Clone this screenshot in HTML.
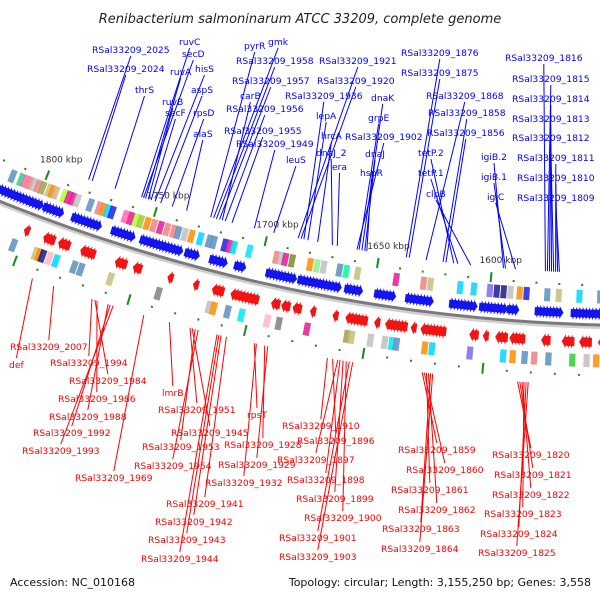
<!DOCTYPE html>
<html><head><meta charset="utf-8"><style>
html,body{margin:0;padding:0;background:#fff}
svg{display:block}
text{font-family:"DejaVu Sans","Liberation Sans",sans-serif}
</style></head><body>
<svg id="map" width="600" height="600" viewBox="0 0 600 600" xmlns="http://www.w3.org/2000/svg">
<text x="300" y="23" text-anchor="middle" font-size="13" font-style="italic" fill="#222">Renibacterium salmoninarum ATCC 33209, complete genome</text>
<text x="10" y="586" font-size="11" fill="#111">Accession: NC_010168</text>
<text x="591" y="586" text-anchor="end" font-size="11" fill="#111">Topology: circular; Length: 3,155,250 bp; Genes: 3,558</text>
<g id="rings"></g>
<g id="labels"></g>
</svg>
<script>
// ---- data (kbp) ----
const fwdClusters=[[1797,1826],[1787,1797],[1770,1784],[1755,1766],[1733,1753],[1726,1733],[1714,1722],[1705.5,1711],[1683.5,1697],[1663.5,1683],[1654,1662.5],[1640,1649.5],[1624,1636],[1605,1617],[1592,1604],[1586,1592],[1567.5,1580],[1540,1564.5]];
const revClusters=[[1813,1816],[1798.5,1801.6],[1787,1793],[1780.3,1785.3],[1769,1775.8],[1755,1760.5],[1748.4,1753.3],[1734.6,1737.2],[1723.4,1726.1],[1712.3,1717.6],[1697.2,1709.3],[1688,1691.5],[1683.6,1687.1],[1678.7,1682.3],[1672.6,1675.2],[1662.9,1665.1],[1650.3,1660.3],[1645,1647.6],[1633.3,1642.8],[1629.4,1632],[1616.8,1628.5],[1603,1606.9],[1598.7,1601.3],[1590.6,1596.1],[1583.2,1589.7],[1572.5,1577.3],[1562.4,1568.1],[1555,1560.7],[1540,1552.6]];
const boxUpKbp=[1814,1810,1808,1806,1804,1802,1800,1797,1795.5,1794,1790,1788,1786,1784,1778,1774,1772,1770,1768,1762,1759.5,1757,1755,1752,1749,1746,1743,1740,1738,1735,1732,1728,1724,1722,1717,1715,1713,1706,1694,1692,1690,1687,1679,1676,1673,1666,1663,1658,1641,1629,1626,1613,1607,1600,1597,1594,1591,1587,1584,1575,1570,1561,1552];
const boxUpColor=["#5b8fc0","#3cc87a","#ff69b4","#f08080","#c0c0c0","#f08080","#a0a050","#c8bd78","#ff8c00","#d2b48c","#adff2f","#e6198f","#e6198f","#c0c0c0","#5b8fc0","#f08080","#ff8c00","#00d5ff","#1e1ee6","#ff69b4","#e6198f","#adff2f","#9acd32","#ff8c00","#f08080","#e6198f","#f08080","#f08080","#5b8fc0","#c0c0c0","#ff8c00","#00d5ff","#5b8fc0","#5b8fc0","#1e1ee6","#e6198f","#00d5ff","#00e5ff","#f08080","#c0c0c0","#e6198f","#7b8b2a","#ff8c00","#90ee90","#c0c0c0","#5b8fc0","#00fa9a","#c8bd78","#e6198f","#f08080","#c8bd78","#00d5ff","#00d5ff","#7b68ee","#1a1a8a","#1a1a8a","#c0c0c0","#ff8c00","#1e1ee6","#5b8fc0","#c8bd78","#00d5ff","#5b8fc0"];
const boxDownKbp=[1803,1793,1791.5,1790,1787,1784,1776,1773,1760,1739,1717,1715,1709,1703,1692,1687,1675,1658,1656,1648,1642,1639,1637,1625,1622,1606,1592,1588,1583,1579,1573,1563,1557,1553];
const boxDownColor=["#5b8fc0","#c8bd78","#ff8c00","#1a1a8a","#ffb6c1","#00d5ff","#5b8fc0","#5b8fc0","#c8bd78","#808080","#c0c0c0","#ff8c00","#5b8fc0","#00e5ff","#ffb6c1","#808080","#e6198f","#a0a050","#c8bd78","#c0c0c0","#c0c0c0","#00e5ff","#5b8fc0","#ff8c00","#00d5ff","#7b68ee","#00d5ff","#ff8c00","#5b8fc0","#f08080","#5b8fc0","#32cd32","#c0c0c0","#ff8c00"];
const tickKbp=[1800,1750,1700,1650,1600];
const tickLabels=["1800 kbp","1750 kbp","1700 kbp","1650 kbp","1600 kbp"];
const topNames=["RSal33209_2025","RSal33209_2024","thrS","ruvC","secD","ruvA","ruvB","secF","hisS","aspS","rpsD","alaS","pyrR","gmk","RSal33209_1958","RSal33209_1957","carB","RSal33209_1956","RSal33209_1955","RSal33209_1949","leuS","RSal33209_1921","RSal33209_1920","RSal33209_1936","lepA","hrcA","dnaJ_2","era","RSal33209_1902","dnaK","grpE","dnaJ","hspR","RSal33209_1876","RSal33209_1875","RSal33209_1868","RSal33209_1858","RSal33209_1856","tetP.2","tetP.1","clpB","igiB.2","igiB.1","igiC","RSal33209_1816","RSal33209_1815","RSal33209_1814","RSal33209_1813","RSal33209_1812","RSal33209_1811","RSal33209_1810","RSal33209_1809"];
const topKbp=[1782.3,1780.6,1770,1757.7,1756.8,1755.9,1754.6,1753.3,1751.5,1748.9,1743.6,1737,1726,1724.7,1723.4,1722,1720.7,1719.4,1716.3,1706.2,1697.4,1686.4,1685.1,1683.8,1682,1677.6,1671,1668.8,1660,1657.8,1659.1,1656.5,1655.6,1638,1636.7,1629.2,1621.7,1620.4,1616.9,1615.1,1609.4,1594.9,1594,1589.6,1576.4,1575.5,1574.6,1573.7,1572.8,1571.9,1571,1570.2];
const topLayout=[[92,49],[87,68],[135,89],[179,41],[182,53],[170,71],[162,101],[165,112],[195,68],[191,89],[193,112],[193,133],[244,45],[268,41],[236,60],[232,80],[240,95],[226,108],[224,130],[236,143],[286,159],[319,60],[317,80],[285,95],[316,115],[321,135],[316,152],[332,166],[345,136],[371,97],[368,117],[365,153],[360,172],[401,52],[401,72],[426,95],[428,112],[427,132],[418,152],[418,172],[426,193],[481,156],[481,176],[487,196],[505,57],[512,78],[512,98],[512,118],[512,137],[517,157],[517,177],[517,197]];
const botNames=["RSal33209_2007","def","RSal33209_1994","RSal33209_1984","RSal33209_1986","RSal33209_1988","RSal33209_1992","RSal33209_1993","RSal33209_1969","lmrB","RSal33209_1951","RSal33209_1945","RSal33209_1953","RSal33209_1954","rpsT","RSal33209_1928","RSal33209_1929","RSal33209_1932","RSal33209_1941","RSal33209_1942","RSal33209_1943","RSal33209_1944","RSal33209_1910","RSal33209_1896","RSal33209_1897","RSal33209_1898","RSal33209_1899","RSal33209_1900","RSal33209_1901","RSal33209_1903","RSal33209_1859","RSal33209_1860","RSal33209_1861","RSal33209_1862","RSal33209_1863","RSal33209_1864","RSal33209_1820","RSal33209_1821","RSal33209_1822","RSal33209_1823","RSal33209_1824","RSal33209_1825"];
const botKbp=[1781.4,1790.7,1764.7,1763.4,1762.5,1757.7,1756.8,1755.5,1742.3,1731.3,1722.5,1721.6,1720.3,1719,1695.2,1690.8,1689.5,1694.3,1707,1709.3,1710.2,1711,1664.4,1662.2,1660,1659.1,1657.8,1656.5,1655.2,1653.8,1624.8,1623.9,1623,1622.2,1621.3,1620.4,1585.2,1584.3,1583.4,1582.6,1581.7,1580.8];
const botLayout=[[10,346],[9,364],[50,362],[69,380],[58,398],[49,416],[33,432],[22,450],[75,477],[162,392],[158,409],[171,432],[142,446],[134,465],[247,414],[224,444],[218,464],[205,482],[166,503],[155,521],[148,539],[141,558],[282,425],[297,440],[277,459],[287,479],[296,498],[304,517],[279,537],[279,556],[398,449],[406,469],[391,489],[398,509],[382,528],[381,548],[492,454],[494,474],[492,494],[484,513],[480,533],[478,552]];

// ---- geometry ----
const NS="http://www.w3.org/2000/svg";
const CX=643, CY=-1402, RB=1726;
function ang(k){return (-5.17-(k-1600)*0.0776)*Math.PI/180;}
function pos(k,r){const a=ang(k);return [CX+r*Math.sin(a),CY+r*Math.cos(a)];}
function pts(list){return list.map(p=>p[0].toFixed(1)+","+p[1].toFixed(1)).join(" ");}
const rings=document.getElementById('rings');
const labels=document.getElementById('labels');
function mk(tag,attrs,parent){const e=document.createElementNS(NS,tag);for(const k in attrs)e.setAttribute(k,attrs[k]);parent.appendChild(e);return e;}

const bb1=mk('circle',{cx:CX,cy:CY,r:RB+4,fill:'none',stroke:'#d0d0d0','stroke-width':3},rings);


const bb=mk('circle',{cx:CX,cy:CY,r:RB+1.5,fill:'none',stroke:'#7a7a7a','stroke-width':3},rings);



function arrow(kFrom,kTo,r0,r1,color,name){
  const dir=Math.sign(kTo-kFrom), head=1.7, kh=kTo-dir*head, rm=(r0+r1)/2;
  const p=[pos(kFrom,r0+2.5),pos(kh,r0+2.5),pos(kh,r0),pos(kTo,rm),pos(kh,r1),pos(kh,r1-2.5),pos(kFrom,r1-2.5)];
  const e=mk('polygon',{points:pts(p),fill:color},rings);
  
  
}
fwdClusters.forEach(c=>{
  for(let k=c[1];k-2.6>=c[0]-0.5;k-=1.4){arrow(k,k-2.6,RB-16,RB-3,'#1414ee','forward-gene');}
});
revClusters.forEach(c=>{
  for(let k=c[0];k+2.6<=c[1]+0.5;k+=1.4){arrow(k,k+2.6,RB+12,RB+26,'#f01414','reverse-gene');}
});
function box(k,r0,r1,color,name){
  const p=[pos(k+1.3,r0),pos(k-1.3,r0),pos(k-1.3,r1),pos(k+1.3,r1)];
  const e=mk('polygon',{points:pts(p),fill:color,opacity:0.85},rings);
  
  
}
boxUpKbp.forEach((k,i)=>box(k,RB-33,RB-20,boxUpColor[i],'cog-box-forward'));
boxDownKbp.forEach((k,i)=>box(k,RB+31,RB+44,boxDownColor[i],'cog-box-reverse'));

for(let k=1540;k<=1830;k+=10){
  const major=(k%50===0);
  [[RB-39,RB-37,RB-45,RB-35],[RB+51,RB+53,RB+46,RB+57]].forEach(rr=>{
    const a=pos(k,major?rr[2]:rr[0]), b=pos(k,major?rr[3]:rr[1]);
    const e=mk('line',{x1:a[0],y1:a[1],x2:b[0],y2:b[1],stroke:'#1a8a1a','stroke-width':2},rings);
    
    
  });
}
tickKbp.forEach((k,i)=>{
  const p=pos(k,RB-56);
  const t=mk('text',{x:(p[0]-13).toFixed(1),y:(p[1]+2).toFixed(1),'font-size':9,fill:'#333'},rings);
  t.textContent=tickLabels[i];
  
  
});

function addLabel(name,lay,k,color,top){
  const t=mk('text',{x:lay[0],y:lay[1]+4,'font-size':9.2,fill:color},labels);
  t.textContent=name;
  
  
  const w=t.getComputedTextLength();
  const ax=lay[0]+w/2, ay=top?lay[1]+7:lay[1]-6;
  const e=pos(k,top?RB-50:RB+62);
  const l=mk('line',{x1:ax.toFixed(1),y1:ay,x2:e[0].toFixed(1),y2:e[1].toFixed(1),stroke:color,'stroke-width':1},labels);
  
  
}
topNames.forEach((n,i)=>addLabel(n,topLayout[i],topKbp[i],'#0000ff',true));
botNames.forEach((n,i)=>addLabel(n,botLayout[i],botKbp[i],'#ff0000',false));
</script>
</body></html>
